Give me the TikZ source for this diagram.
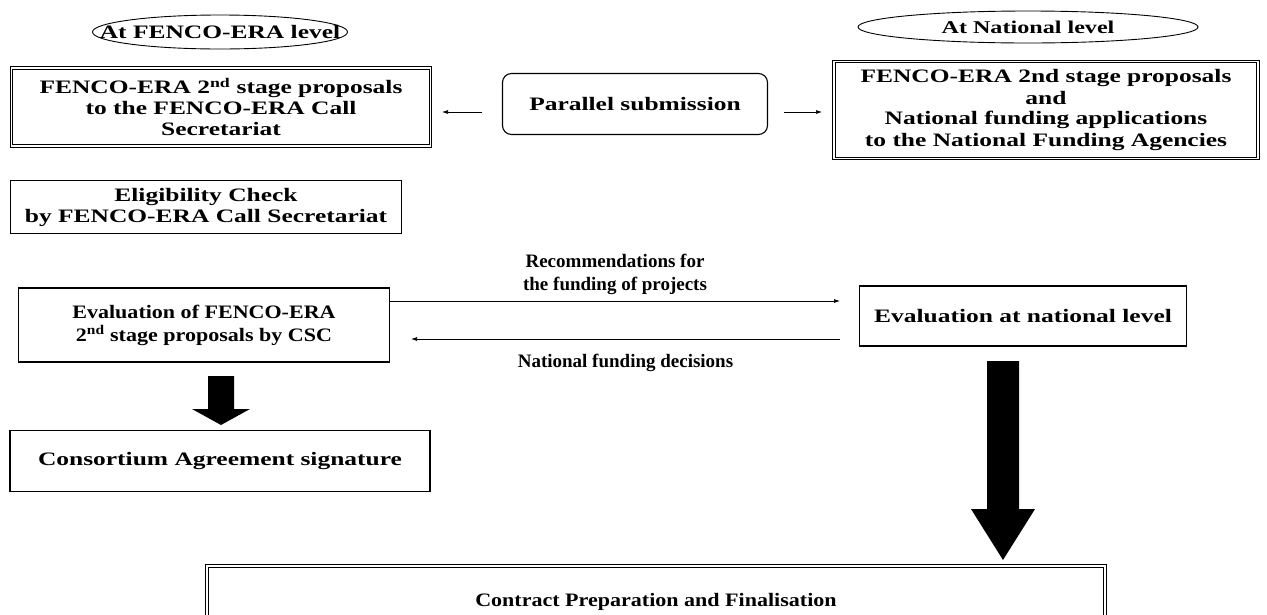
\documentclass[tikz,border=0pt]{standalone}
\usepackage{fontspec}
\setmainfont{Liberation Serif}
\newfontfamily\wfont{Liberation Serif}[FakeStretch=1.34]
\newfontfamily\nfont{Liberation Serif}[FakeStretch=1.16]
\newfontfamily\lfont{Liberation Serif}[FakeStretch=1.0]
\usetikzlibrary{positioning}
\usetikzlibrary{arrows.meta}
\usetikzlibrary{shapes.geometric}
\usetikzlibrary{calc}
\tikzset{onebox/.style={rectangle,draw=black,line width=1.1pt,fill=white,
inner sep=2pt,align=center,font=\wfont\bfseries\fontsize{19}{21}\selectfont}}
\tikzset{twobox/.style={rectangle,draw=black,double,double distance=1.6pt,line width=0.9pt,
inner sep=2pt,align=center,font=\wfont\bfseries\fontsize{19}{21}\selectfont}}
\tikzset{levelring/.style={ellipse,draw=black,line width=0.9pt,inner sep=0pt}}
\tikzset{flowlabel/.style={align=center,font=\lfont\bfseries\fontsize{19}{23}\selectfont}}
\tikzset{thinarrow/.style={line width=0.7pt,-{Latex[length=6pt,width=4pt]}}}

\begin{document}
\begin{tikzpicture}[x=1pt,y=-1pt]
        \useasboundingbox (0,0) rectangle (1267,614);

        \node[levelring, minimum width=255pt, minimum height=34pt] (ringFenco) at (220,32) {};
        \node[font=\wfont\bfseries\fontsize{19}{21}\selectfont] (lvlFenco) at (ringFenco) {At FENCO-ERA level};
        \node[levelring, minimum width=340pt, minimum height=32pt,
              font=\wfont\bfseries\fontsize{18}{20}\selectfont] (lvlNat) at (1028,27) {At National level};

        \node[twobox, minimum width=419pt, minimum height=78pt] (propFenco) at (221,107)
            {FENCO-ERA 2\textsuperscript{nd} stage proposals\\to the FENCO-ERA Call\\Secretariat};
        \node[onebox, rounded corners=9pt, minimum width=265pt, minimum height=61pt] (parallel) at (635,104)
            {Parallel submission};
        \node[twobox, minimum width=424pt, minimum height=97pt] (propNat) at (1046,110)
            {FENCO-ERA 2nd stage proposals\\and\\National funding applications\\to the National Funding Agencies};

        \node[onebox, minimum width=391pt, minimum height=53pt] (elig) at (206,207)
            {Eligibility Check\\by FENCO-ERA Call Secretariat};

        \node[onebox, minimum width=371pt, minimum height=74pt,
              font=\nfont\bfseries\fontsize{19}{23}\selectfont] (evalCsc) at (204,325)
            {Evaluation of FENCO-ERA\\2\textsuperscript{nd} stage proposals by CSC};
        \node[onebox, minimum width=327pt, minimum height=60pt] (evalNat) at (1023,316)
            {Evaluation at national level};

        \node[onebox, minimum width=420pt, minimum height=61pt] (consort) at (220,461)
            {Consortium Agreement signature};

        \node[twobox, minimum width=898pt, minimum height=72pt,
              font=\nfont\bfseries\fontsize{19}{21}\selectfont] (contract) at (656,602)
            {Contract Preparation and Finalisation};

        % parallel submission goes both ways
        \coordinate (paraL) at (482,112);
        \coordinate (paraLtip) at (442,112);
        \coordinate (paraR) at (784,112);
        \coordinate (paraRtip) at (822,112);
        \draw[thinarrow] (paraL) -- (paraLtip);
        \draw[thinarrow] (paraR) -- (paraRtip);

        % between the two evaluations
        \coordinate (recTail) at (evalCsc.east |- 0,301);
        \coordinate (recTip) at (840,301);
        \draw[thinarrow] (recTail) -- (recTip);
        \coordinate (decTail) at (840,339);
        \coordinate (decTip) at (411,339);
        \draw[thinarrow] (decTail) -- (decTip);
        \node[flowlabel, above=3pt of $(recTail)!0.5!(recTip)$] (recLabel)
            {Recommendations for\\the funding of projects};
        \node[flowlabel, below=12pt of $(decTail)!0.5!(decTip)$] (decLabel)
            {National funding decisions};

        % block arrows
        \fill (208,376) -- (234,376) -- (234,409) -- (250,409) -- (221,425)
              -- (192,409) -- (208,409) -- cycle;
        \fill (987,361) -- (1019,361) -- (1019,509) -- (1035,509) -- (1003,560)
              -- (971,509) -- (987,509) -- cycle;

\end{tikzpicture}
\end{document}
